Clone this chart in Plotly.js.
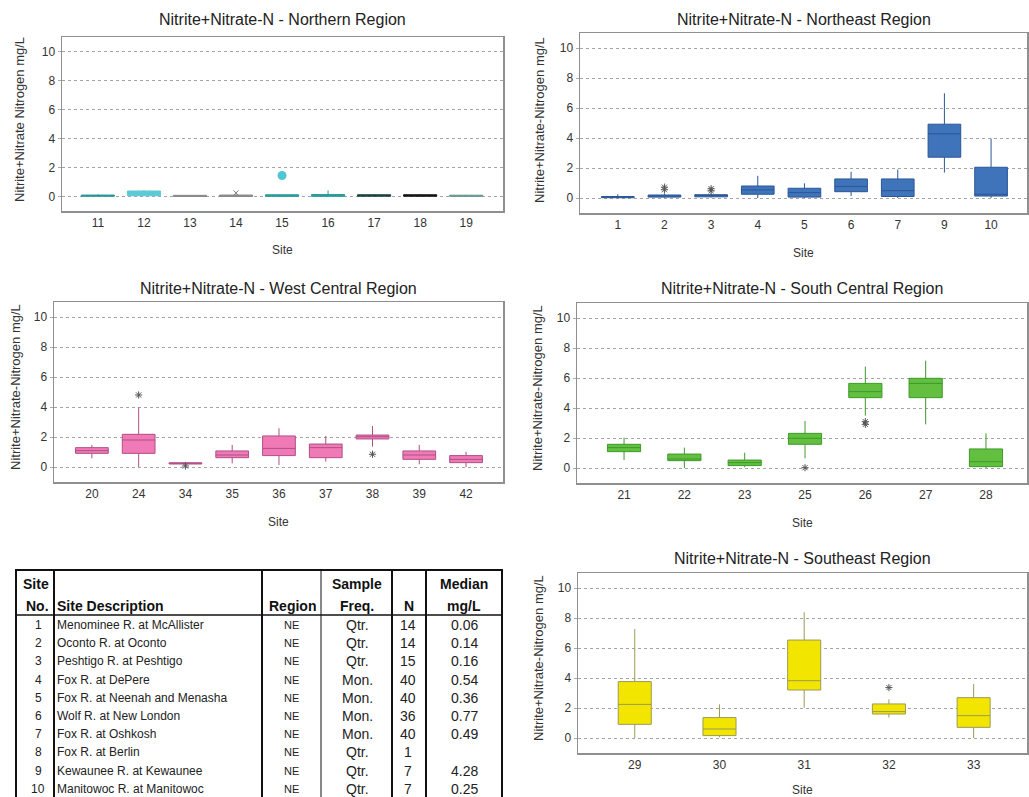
<!DOCTYPE html>
<html><head><meta charset="utf-8">
<script src="https://cdn.plot.ly/plotly-3.0.1.min.js"></script>
<style>html,body{margin:0;padding:0;background:#fff}#chart{width:1029px;height:797px}</style>
</head><body><div id="chart"></div>
<script>
// ---------------- DATA ----------------
// Northern Region
const nSites = ['11','12','13','14','15','16','17','18','19'];
const nQ1  = [0.02, 0.05, 0.00, 0.00, 0.01, 0.01, 0.02, 0.02, 0.01];
const nMed = [0.05, 0.30, 0.03, 0.04, 0.05, 0.06, 0.06, 0.06, 0.04];
const nQ3  = [0.10, 0.38, 0.08, 0.10, 0.12, 0.14, 0.12, 0.12, 0.09];
const nLo  = [0.00, 0.02, 0.00, 0.00, 0.00, 0.00, 0.00, 0.00, 0.00];
const nHi  = [0.15, 0.45, 0.10, 0.15, 0.15, 0.42, 0.15, 0.15, 0.12];
const nOutX = ['15'];
const nOutY = [1.45];
const nOutStarX = ['14'];
const nOutStarY = [0.25];

// Northeast Region
const neSites = ['1','2','3','4','5','6','7','9','10'];
const neQ1  = [0.02, 0.06, 0.08, 0.25, 0.06, 0.42, 0.10, 2.72, 0.13];
const neMed = [0.06, 0.14, 0.16, 0.54, 0.36, 0.77, 0.49, 4.28, 0.25];
const neQ3  = [0.10, 0.20, 0.22, 0.80, 0.65, 1.27, 1.27, 4.92, 2.05];
const neLo  = [0.00, 0.02, 0.04, 0.00, 0.00, 0.13, 0.00, 1.70, 0.00];
const neHi  = [0.25, 0.30, 0.30, 1.48, 0.98, 1.75, 1.90, 6.98, 3.96];
const neOutX = ['2','2','3','3'];
const neOutY = [0.72, 0.55, 0.62, 0.48];

// West Central Region
const wcSites = ['20','24','34','35','36','37','38','39','42'];
const wcQ1  = [0.91, 0.91, 0.20, 0.62, 0.76, 0.62, 1.87, 0.51, 0.29];
const wcMed = [1.09, 1.80, 0.25, 0.80, 1.24, 1.29, 2.02, 0.80, 0.51];
const wcQ3  = [1.29, 2.18, 0.28, 1.07, 2.07, 1.53, 2.13, 1.07, 0.76];
const wcLo  = [0.58, 0.00, 0.18, 0.24, 0.13, 0.36, 1.36, 0.18, 0.00];
const wcHi  = [1.47, 3.98, 0.30, 1.47, 2.58, 2.07, 2.73, 1.47, 1.02];
const wcOutX = ['24','34','38'];
const wcOutY = [4.80, 0.07, 0.85];

// South Central Region
const scSites = ['21','22','23','25','26','27','28'];
const scQ1  = [1.09, 0.49, 0.16, 1.58, 4.69, 4.69, 0.09];
const scMed = [1.36, 0.60, 0.36, 1.98, 5.09, 5.64, 0.42];
const scQ3  = [1.58, 0.93, 0.53, 2.31, 5.64, 5.98, 1.27];
const scLo  = [0.53, 0.00, 0.05, 0.64, 3.49, 2.91, 0.00];
const scHi  = [2.02, 1.36, 1.02, 3.13, 6.76, 7.16, 2.31];
const scOutX = ['25','26','26'];
const scOutY = [0.02, 3.09, 2.91];

// Southeast Region
const seSites = ['29','30','31','32','33'];
const seQ1  = [0.91, 0.16, 3.20, 1.60, 0.71];
const seMed = [2.24, 0.60, 3.82, 1.76, 1.49];
const seQ3  = [3.76, 1.36, 6.53, 2.27, 2.69];
const seLo  = [0.00, 0.05, 2.02, 1.36, 0.00];
const seHi  = [7.27, 2.24, 8.38, 2.58, 3.60];
const seOutX = ['32'];
const seOutY = [3.36];

const yTicks = [0, 2, 4, 6, 8, 10];

// Table
const tSiteNo = ['1','2','3','4','5','6','7','8','9','10'];
const tDesc = ['Menominee R. at McAllister','Oconto R. at Oconto','Peshtigo R. at Peshtigo','Fox R. at DePere',
  'Fox R. at Neenah and Menasha','Wolf R. at New London','Fox R. at Oshkosh','Fox R. at Berlin',
  'Kewaunee R. at Kewaunee','Manitowoc R. at Manitowoc'];
const tRegion = ['NE','NE','NE','NE','NE','NE','NE','NE','NE','NE'];
const tFreq = ['Qtr.','Qtr.','Qtr.','Mon.','Mon.','Mon.','Mon.','Qtr.','Qtr.','Qtr.'];
const tN = ['14','14','15','40','40','36','40','1','7','7'];
const tMedian = ['0.06','0.14','0.16','0.54','0.36','0.77','0.49','','4.28','0.25'];

// ---------------- STYLE ----------------
const nColors = ['#2a9898','#5cc9d7','#8a8a8a','#8a8a8a','#2c9c9c','#2c9c9c','#1d4343','#161616','#6a9898'];
const FONT = 'Liberation Sans, Arial, Helvetica, sans-serif';
const W = 1029, H = 797;
const fx = p => p / W;
const fy = p => 1 - p / H;

const panels = [
  {name:'Northern',      l:62,  r:503,  t:37,  b:211, xr:[-0.78,8.80], w:0.72, ytl:'Nitrite+Nitrate Nitrogen mg/L', ytx:20,  yty:120, tty:20,  sty:250},
  {name:'Northeast',     l:580, r:1027, t:33,  b:213, xr:[-0.81,8.77], w:0.70, ytl:'Nitrite+Nitrate-Nitrogen mg/L', ytx:540, yty:120, tty:19,  sty:253},
  {name:'West Central',  l:54,  r:503,  t:302, b:482, xr:[-0.81,8.79], w:0.70, ytl:'Nitrite+Nitrate-Nitrogen mg/L', ytx:15,  yty:387, tty:288, sty:522},
  {name:'South Central', l:577, r:1027, t:303, b:483, xr:[-0.78,6.68], w:0.55, ytl:'Nitrite+Nitrate-Nitrogen mg/L', ytx:538, yty:388, tty:288, sty:523},
  {name:'Southeast',     l:578, r:1027, t:573, b:753, xr:[-0.67,4.63], w:0.39, ytl:'Nitrite+Nitrate-Nitrogen mg/L', ytx:538, yty:658, tty:558, sty:790}
];
const cats = [nSites, neSites, wcSites, scSites, seSites];

const layout = {
  width: W, height: H,
  margin: {l:0, r:0, t:0, b:0},
  paper_bgcolor: '#ffffff', plot_bgcolor: '#ffffff',
  showlegend: false,
  boxmode: 'overlay',
  font: {family: FONT, color: '#333'},
  annotations: [], shapes: []
};

panels.forEach((p, i) => {
  const k = i === 0 ? '' : String(i + 1);
  layout['xaxis' + k] = {
    domain: [fx(p.l), fx(p.r)], anchor: 'y' + k,
    type: 'category', categoryorder: 'array', categoryarray: cats[i],
    range: p.xr, showgrid: false, zeroline: false,
    showline: true, mirror: true, linecolor: '#8f8f8f', linewidth: 1.5,
    ticks: '',
    tickfont: {size: 12, color: '#333', family: FONT}, fixedrange: true
  };
  layout['yaxis' + k] = {
    domain: [fy(p.b), fy(p.t)], anchor: 'x' + k,
    range: [-1, 11], tickvals: yTicks, ticktext: yTicks.map(String),
    showgrid: true, gridcolor: '#a5a5a5', griddash: 'dot', gridwidth: 1,
    zeroline: false, showline: true, mirror: true, linecolor: '#8f8f8f', linewidth: 1.5,
    ticks: 'outside', ticklen: 3, tickcolor: '#aaa',
    tickfont: {size: 12, color: '#333', family: FONT}, fixedrange: true
  };
  layout.annotations.push({
    text: 'Nitrite+Nitrate-N - ' + p.name + ' Region', xref: 'paper', yref: 'paper',
    x: fx((p.l + p.r) / 2), y: fy(p.tty), xanchor: 'center', yanchor: 'middle', showarrow: false,
    font: {size: 16, color: '#222', family: FONT}
  });
  layout.annotations.push({
    text: 'Site', xref: 'paper', yref: 'paper',
    x: fx((p.l + p.r) / 2), y: fy(p.sty), xanchor: 'center', yanchor: 'middle', showarrow: false,
    font: {size: 12, color: '#333', family: FONT}
  });
  layout.annotations.push({
    text: p.ytl, xref: 'paper', yref: 'paper', textangle: -90,
    x: fx(p.ytx), y: fy(p.yty), xanchor: 'center', yanchor: 'middle', showarrow: false,
    font: {size: 13, color: '#333', family: FONT}
  });
});

const traces = [];
function boxTrace(k, x, q1, med, q3, lo, hi, fill, line, w) {
  return {type: 'box', xaxis: 'x' + k, yaxis: 'y' + k, x: x, q1: q1, median: med, q3: q3,
    lowerfence: lo, upperfence: hi, boxpoints: false, fillcolor: fill,
    line: {color: line, width: 1}, whiskerwidth: 0, width: w, hoverinfo: 'skip', showlegend: false};
}
function starTrace(k, x, y) {
  return {type: 'scatter', mode: 'markers', xaxis: 'x' + k, yaxis: 'y' + k, x: x, y: y,
    marker: {symbol: 'asterisk-open', size: 6, color: '#555', line: {color: '#555', width: 1}},
    hoverinfo: 'skip', showlegend: false};
}
// Northern: one box per site (colours vary)
nSites.forEach((s, j) => {
  traces.push(boxTrace('', [s], [nQ1[j]], [nMed[j]], [nQ3[j]], [nLo[j]], [nHi[j]], nColors[j], nColors[j], panels[0].w));
});
traces.push({type: 'scatter', mode: 'markers', xaxis: 'x', yaxis: 'y', x: nOutX, y: nOutY,
  marker: {symbol: 'circle', size: 9, color: '#4fc6d4'}, hoverinfo: 'skip', showlegend: false});
traces.push({type: 'scatter', mode: 'markers', xaxis: 'x', yaxis: 'y', x: nOutStarX, y: nOutStarY,
  marker: {symbol: 'x-thin-open', size: 5, color: '#777', line: {color: '#777', width: 1}}, hoverinfo: 'skip', showlegend: false});

traces.push(boxTrace('2', neSites, neQ1, neMed, neQ3, neLo, neHi, '#3f73ba', '#2b5797', panels[1].w));
traces.push(starTrace('2', neOutX, neOutY));
traces.push(boxTrace('3', wcSites, wcQ1, wcMed, wcQ3, wcLo, wcHi, '#f07ab6', '#b04f86', panels[2].w));
traces.push(starTrace('3', wcOutX, wcOutY));
traces.push(boxTrace('4', scSites, scQ1, scMed, scQ3, scLo, scHi, '#62bf3f', '#3e9a2a', panels[3].w));
traces.push(starTrace('4', scOutX, scOutY));
traces.push(boxTrace('5', seSites, seQ1, seMed, seQ3, seLo, seHi, '#f2e600', '#9c9a55', panels[4].w));
traces.push(starTrace('5', seOutX, seOutY));

// ---------------- TABLE ----------------
const colLines = [16, 54, 262, 321, 392, 426, 502];
const colWidths = [2, 2, 2, 1, 2, 2, 2];
const tTop = 570, tHeadBot = 615, tBot = 797;
colLines.forEach((x, j) => {
  layout.shapes.push({type: 'line', xref: 'paper', yref: 'paper', x0: fx(x), x1: fx(x), y0: fy(tTop), y1: fy(tBot),
    line: {color: '#111', width: colWidths[j]}});
});
layout.shapes.push({type: 'line', xref: 'paper', yref: 'paper', x0: fx(15), x1: fx(503), y0: fy(tTop), y1: fy(tTop), line: {color: '#111', width: 2}});
layout.shapes.push({type: 'line', xref: 'paper', yref: 'paper', x0: fx(15), x1: fx(503), y0: fy(tHeadBot), y1: fy(tHeadBot), line: {color: '#111', width: 1.5}});

function tAnn(text, x, y, anchor, size, bold, color) {
  layout.annotations.push({text: bold ? '<b>' + text + '</b>' : text, xref: 'paper', yref: 'paper',
    x: fx(x), y: fy(y), xanchor: anchor, yanchor: 'middle', showarrow: false, borderpad: 0,
    font: {size: size, color: color || '#111', family: FONT}});
}
const hRow1 = 584, hRow2 = 606;
tAnn('Site', 36, hRow1, 'center', 14, true);
tAnn('No.', 37, hRow2, 'center', 14, true);
tAnn('Site Description', 56, hRow2, 'left', 14, true);
tAnn('Region', 292, hRow2, 'center', 14, true);
tAnn('Sample', 357, hRow1, 'center', 14, true);
tAnn('Freq.', 357, hRow2, 'center', 14, true);
tAnn('N', 409, hRow2, 'center', 14, true);
tAnn('Median', 464, hRow1, 'center', 14, true);
tAnn('mg/L', 464, hRow2, 'center', 14, true);

const row0 = 625, rowH = 18.2;
tSiteNo.forEach((s, i) => {
  const y = row0 + i * rowH;
  tAnn(s, 38, y, 'center', 12, false, '#222');
  tAnn(tDesc[i], 56, y, 'left', 12, false, '#222');
  tAnn(tRegion[i], 291, y, 'center', 11, false, '#222');
  tAnn(tFreq[i], 357, y, 'center', 14, false, '#222');
  tAnn(tN[i], 408, y, 'center', 14, false, '#222');
  if (tMedian[i]) tAnn(tMedian[i], 464, y, 'center', 14, false, '#222');
});

Plotly.newPlot('chart', traces, layout, {displayModeBar: false, staticPlot: true});
</script>
</body></html>
